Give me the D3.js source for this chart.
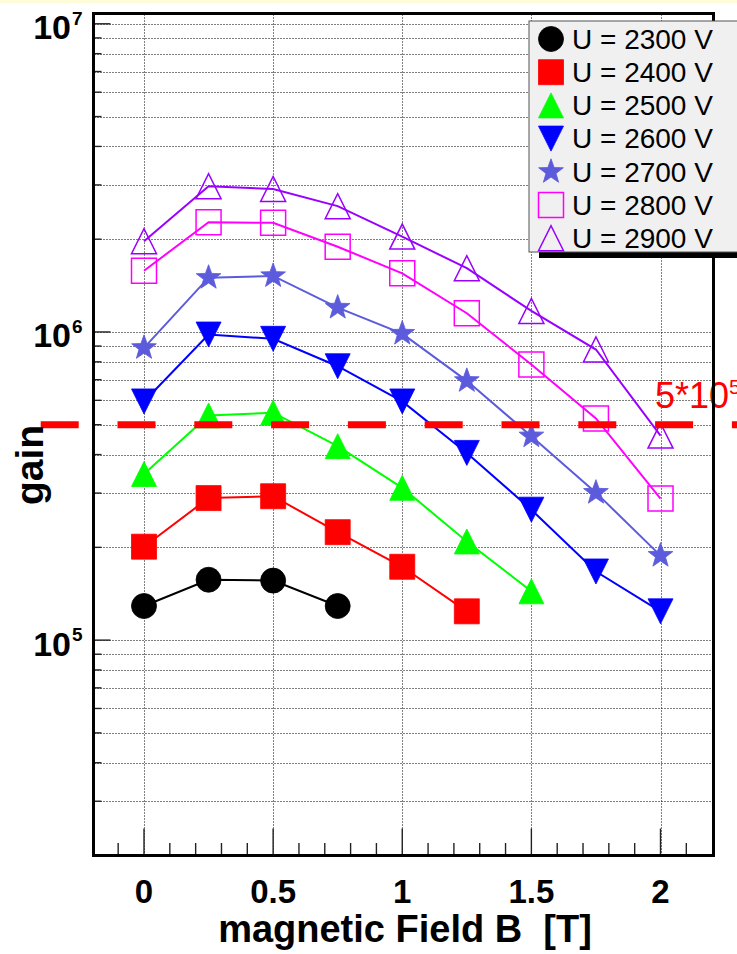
<!DOCTYPE html>
<html>
<head>
<meta charset="utf-8">
<script src="https://cdn.jsdelivr.net/npm/d3@7"></script>
<style>
  html, body { margin: 0; padding: 0; background: #ffffff; }
  svg { display: block; font-family: "Liberation Sans", Arial, Helvetica, sans-serif; }
  text { white-space: pre; }
</style>
</head>
<body>
<script>
// Gain versus magnetic field for several supply voltages
const fieldB = [0, 0.25, 0.5, 0.75, 1.0, 1.25, 1.5, 1.75, 2.0];

const gain2300 = [1.29e5, 1.57e5, 1.56e5, 1.29e5];
const gain2400 = [2.01e5, 2.89e5, 2.93e5, 2.24e5, 1.73e5, 1.24e5];
const gain2500 = [3.46e5, 5.36e5, 5.47e5, 4.26e5, 3.12e5, 2.09e5, 1.44e5];
const gain2600 = [5.95e5, 9.81e5, 9.50e5, 7.74e5, 5.95e5, 4.05e5, 2.65e5, 1.67e5, 1.24e5];
const gain2700 = [8.88e5, 1.50e6, 1.52e6, 1.20e6, 9.88e5, 6.94e5, 4.59e5, 3.01e5, 1.88e5];
const gain2800 = [1.58e6, 2.27e6, 2.26e6, 1.89e6, 1.55e6, 1.15e6, 7.84e5, 5.24e5, 2.88e5];
const gain2900 = [1.97e6, 2.97e6, 2.91e6, 2.56e6, 2.04e6, 1.61e6, 1.17e6, 8.77e5, 4.61e5];

const voltageLabels = ["U = 2300 V", "U = 2400 V", "U = 2500 V", "U = 2600 V",
                       "U = 2700 V", "U = 2800 V", "U = 2900 V"];
const seriesGains = [gain2300, gain2400, gain2500, gain2600, gain2700, gain2800, gain2900];

const seriesColors = ["#000000", "#ff0000", "#00ff00", "#0000ff", "#5b5bdc", "#ff00ff", "#9a00ff"];
const seriesShapes = ["circle", "square", "triUp", "triDown", "star", "square", "triUp"];
const seriesFilled = [true, true, true, true, true, false, false];

const xMajorTicks = [0, 0.5, 1, 1.5, 2];
const xTickLabels = ["0", "0.5", "1", "1.5", "2"];
const yDecades = [1e5, 1e6, 1e7];
const yDecadeExponents = ["5", "6", "7"];

const threshold = 5e5;
const thresholdBase = "5*10";
const thresholdExp = "5";

const xTitle = "magnetic Field B  [T]";
const yTitle = "gain";

// ---- layout ----
const W = 737, H = 954;
const frame = { left: 93.5, right: 713.5, top: 13.5, bottom: 855.5 };

const x = d3.scaleLinear().domain([-0.2, 2.2]).range([92.35, 712.15]);
const y = d3.scaleLog().domain([2.0e4, 1.08e7]).range([frame.bottom, frame.top]);

const svg = d3.select("body").append("svg")
  .attr("width", W).attr("height", H);

svg.append("rect").attr("width", W).attr("height", H).attr("fill", "#ffffff");
svg.append("rect").attr("x", 0).attr("y", 0).attr("width", W).attr("height", 3.5)
  .attr("fill", "#fdfdd9");

// ---- grid ----
const yMinor = y.ticks().filter(v => y(v) > frame.top + 1 && y(v) < frame.bottom - 1);
const grid = svg.append("g")
  .attr("stroke", "#000").attr("stroke-width", 1).attr("stroke-dasharray", "1,2");
grid.selectAll("line.h").data(yMinor).join("line").attr("class", "h")
  .attr("x1", frame.left + 1).attr("x2", frame.right - 1)
  .attr("y1", d => Math.round(y(d)) + 0.5).attr("y2", d => Math.round(y(d)) + 0.5);
grid.selectAll("line.v").data(xMajorTicks).join("line").attr("class", "v")
  .attr("x1", d => Math.round(x(d)) + 0.5).attr("x2", d => Math.round(x(d)) + 0.5)
  .attr("y1", frame.top + 1).attr("y2", frame.bottom - 1);

// ---- ticks ----
const ticks = svg.append("g").attr("stroke", "#222").attr("stroke-width", 1.4);
const xMinor = d3.ticks(-0.2, 2.2, 24).filter(v => v > -0.2 + 1e-9 && v < 2.2 - 1e-9 &&
  !xMajorTicks.some(m => Math.abs(m - v) < 1e-9));
ticks.selectAll("line.xmin").data(xMinor).join("line")
  .attr("x1", d => x(d)).attr("x2", d => x(d))
  .attr("y1", frame.bottom).attr("y2", frame.bottom - 12.5);
ticks.selectAll("line.xmaj").data(xMajorTicks).join("line")
  .attr("x1", d => x(d)).attr("x2", d => x(d))
  .attr("y1", frame.bottom).attr("y2", frame.bottom - 27);
ticks.selectAll("line.ytk").data(yMinor).join("line")
  .attr("x1", frame.left).attr("y1", d => y(d)).attr("y2", d => y(d))
  .attr("x2", d => yDecades.includes(d) ? frame.left + 17 : frame.left + 8);

// ---- series lines and markers ----
function markerPath(shape) {
  const s = 12.5;
  switch (shape) {
    case "circle": return d3.symbol(d3.symbolCircle, Math.PI * s * s)();
    case "square": return `M${-s},${-s}H${s}V${s}H${-s}Z`;
    case "triUp": return `M${-s},${s}L${s},${s}L0,${-s}Z`;
    case "triDown": return `M${-s},${-s}L${s},${-s}L0,${s}Z`;
    case "star": {
      const pts = [];
      for (let i = 0; i < 10; i++) {
        const r = i % 2 === 0 ? 13 : 5.3;
        const a = -Math.PI / 2 + i * Math.PI / 5;
        pts.push([r * Math.cos(a), r * Math.sin(a)]);
      }
      return "M" + pts.map(p => p[0].toFixed(2) + "," + p[1].toFixed(2)).join("L") + "Z";
    }
  }
}

const line = d3.line().x(d => x(d[0])).y(d => y(d[1]));

seriesGains.forEach((gains, i) => {
  const pts = gains.map((g, j) => [fieldB[j], g]);
  const g = svg.append("g");
  g.append("path").attr("d", line(pts))
    .attr("fill", "none").attr("stroke", seriesColors[i]).attr("stroke-width", 2);
  g.selectAll("path.m").data(pts).join("path").attr("class", "m")
    .attr("d", markerPath(seriesShapes[i]))
    .attr("transform", d => `translate(${x(d[0])},${y(d[1])})`)
    .attr("fill", seriesFilled[i] ? seriesColors[i] : "none")
    .attr("stroke", seriesColors[i])
    .attr("stroke-width", seriesFilled[i] ? 0.8 : 1.5);
});

// ---- threshold line ----
svg.append("line")
  .attr("x1", x(-0.4)).attr("x2", x(2.45))
  .attr("y1", y(threshold)).attr("y2", y(threshold))
  .attr("stroke", "#ff0000").attr("stroke-width", 7)
  .attr("stroke-dasharray", "38,38.8");

const thr = svg.append("text")
  .attr("x", 655).attr("y", y(threshold) - 17)
  .attr("fill", "#ff0000").attr("font-size", 36);
thr.append("tspan").text(thresholdBase);
thr.append("tspan").attr("font-size", 21).attr("dy", -14).text(thresholdExp);

// ---- frame ----
svg.append("rect")
  .attr("x", frame.left).attr("y", frame.top)
  .attr("width", frame.right - frame.left).attr("height", frame.bottom - frame.top)
  .attr("fill", "none").attr("stroke", "#000").attr("stroke-width", 3);

// ---- axis labels ----
svg.selectAll("text.xl").data(xMajorTicks).join("text").attr("class", "xl")
  .attr("x", d => x(d)).attr("y", 903)
  .attr("text-anchor", "middle").attr("font-size", 33).attr("font-weight", "bold")
  .text((d, i) => xTickLabels[i]);

yDecades.forEach((v, i) => {
  svg.append("text")
    .attr("x", 71).attr("y", y(v) + 15.5)
    .attr("text-anchor", "end").attr("font-size", 34).attr("font-weight", "bold")
    .text("10");
  svg.append("text")
    .attr("x", 72).attr("y", y(v) + 1)
    .attr("font-size", 19).attr("font-weight", "bold")
    .text(yDecadeExponents[i]);
});

svg.append("text")
  .attr("x", 405).attr("y", 942)
  .attr("text-anchor", "middle").attr("font-size", 38).attr("font-weight", "bold")
  .text(xTitle);

svg.append("text")
  .attr("transform", "translate(43,465) rotate(-90)")
  .attr("text-anchor", "middle").attr("font-size", 39).attr("font-weight", "bold")
  .text(yTitle);

// ---- legend ----
const leg = { x: 529, y: 21, w: 260, h: 231 };
svg.append("rect")
  .attr("x", leg.x + 10).attr("y", leg.y + 6).attr("width", leg.w).attr("height", leg.h)
  .attr("fill", "#000");
svg.append("rect")
  .attr("x", leg.x).attr("y", leg.y).attr("width", leg.w).attr("height", leg.h)
  .attr("fill", "#f0f0f0").attr("stroke", "#555").attr("stroke-width", 1);

voltageLabels.forEach((lab, i) => {
  const cy = 39 + i * 33.2;
  svg.append("path")
    .attr("d", markerPath(seriesShapes[i]))
    .attr("transform", `translate(551,${cy})`)
    .attr("fill", seriesFilled[i] ? seriesColors[i] : "none")
    .attr("stroke", seriesColors[i])
    .attr("stroke-width", seriesFilled[i] ? 0.8 : 1.5);
  svg.append("text")
    .attr("x", 572).attr("y", cy + 9.8)
    .attr("font-size", 28).attr("fill", "#000")
    .text(lab);
});
</script>
</body>
</html>
